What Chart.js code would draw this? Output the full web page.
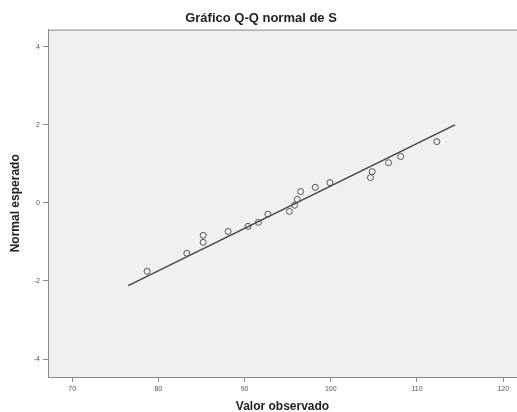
<!DOCTYPE html>
<html>
<head>
<meta charset="utf-8">
<script src="https://cdn.jsdelivr.net/npm/chart.js@4.4.0/dist/chart.umd.min.js"></script>
<style>
  html, body { margin: 0; background: #fff; overflow: hidden; }
  #wrap { width: 517px; height: 412px; overflow: hidden; }
  canvas { display: block; }
</style>
</head>
<body>
<div id="wrap"><canvas id="qq" width="522" height="412"></canvas></div>
<script>
const observed = [78.7, 83.3, 85.2, 85.2, 88.1, 90.4, 91.6, 92.7, 95.2, 95.8, 96.1, 96.5, 98.2, 99.9, 104.6, 104.8, 106.7, 108.1, 112.3];
const expected = [-1.75, -1.29, -1.01, -0.83, -0.73, -0.60, -0.50, -0.29, -0.22, -0.06, 0.09, 0.29, 0.40, 0.52, 0.65, 0.80, 1.03, 1.19, 1.57];
// reference line end points
const lineX = [76.5, 114.4];
const lineY = [-2.12, 2.0];
const xTicks = [70, 80, 90, 100, 110, 120];
const yTicks = [-4, -2, 0, 2, 4];

// light grey plot area with a top border, like the SPSS frame
const plotBg = {
  id: 'plotBg',
  beforeDraw(chart) {
    const { ctx, chartArea: a } = chart;
    ctx.save();
    ctx.fillStyle = '#f0f0f0';
    ctx.fillRect(a.left, a.top, a.right - a.left, a.bottom - a.top);
    ctx.strokeStyle = '#8a8a8a';
    ctx.lineWidth = 1;
    ctx.beginPath();
    ctx.moveTo(a.left, a.top + 0.5);
    ctx.lineTo(a.right, a.top + 0.5);
    ctx.stroke();
    ctx.restore();
  }
};

const tickFont = { family: 'Arial, "Liberation Sans", sans-serif', size: 7 };
const titleFont = { family: 'Arial, "Liberation Sans", sans-serif', size: 12, weight: 'bold' };

new Chart(document.getElementById('qq'), {
  type: 'scatter',
  data: {
    datasets: [
      {
        label: 'S',
        data: observed.map((x, i) => ({ x: x, y: expected[i] })),
        pointStyle: 'circle',
        pointRadius: 3,
        pointBorderWidth: 1,
        pointBorderColor: '#555',
        pointBackgroundColor: 'rgba(0,0,0,0)',
        showLine: false
      },
      {
        label: 'linea',
        data: lineX.map((x, i) => ({ x: x, y: lineY[i] })),
        showLine: true,
        borderColor: '#444',
        borderWidth: 1.5,
        pointRadius: 0
      }
    ]
  },
  options: {
    responsive: false,
    animation: false,
    layout: { padding: 0 },
    plugins: {
      legend: { display: false },
      tooltip: { enabled: false },
      title: {
        display: true,
        text: 'Gráfico Q-Q normal de S',
        color: '#222',
        font: { family: 'Arial, "Liberation Sans", sans-serif', size: 13, weight: 'bold' },
        padding: { top: 11, bottom: 3 }
      }
    },
    scales: {
      x: {
        type: 'linear',
        min: 67.2,
        max: 121.6,
        afterBuildTicks: s => { s.ticks = xTicks.map(v => ({ value: v })); },
        afterFit: s => { s.height = 35; },
        ticks: { color: '#555', font: tickFont, padding: 3, maxRotation: 0 },
        grid: { drawOnChartArea: false, drawTicks: true, tickLength: 5, color: '#8a8a8a' },
        border: { color: '#8a8a8a', width: 1 },
        title: {
          display: true,
          text: 'Valor observado',
          color: '#222',
          font: titleFont,
          padding: { top: 0, bottom: -2 }
        }
      },
      y: {
        type: 'linear',
        min: -4.46,
        max: 4.44,
        afterBuildTicks: s => { s.ticks = yTicks.map(v => ({ value: v })); },
        afterFit: s => { s.width = 48; },
        ticks: { color: '#555', font: tickFont, padding: 3 },
        grid: { drawOnChartArea: false, drawTicks: true, tickLength: 5, color: '#8a8a8a' },
        border: { color: '#8a8a8a', width: 1 },
        title: {
          display: true,
          text: 'Normal esperado',
          color: '#222',
          font: titleFont,
          padding: { top: 8, bottom: 0 }
        }
      }
    }
  },
  plugins: [plotBg]
});
</script>
</body>
</html>
